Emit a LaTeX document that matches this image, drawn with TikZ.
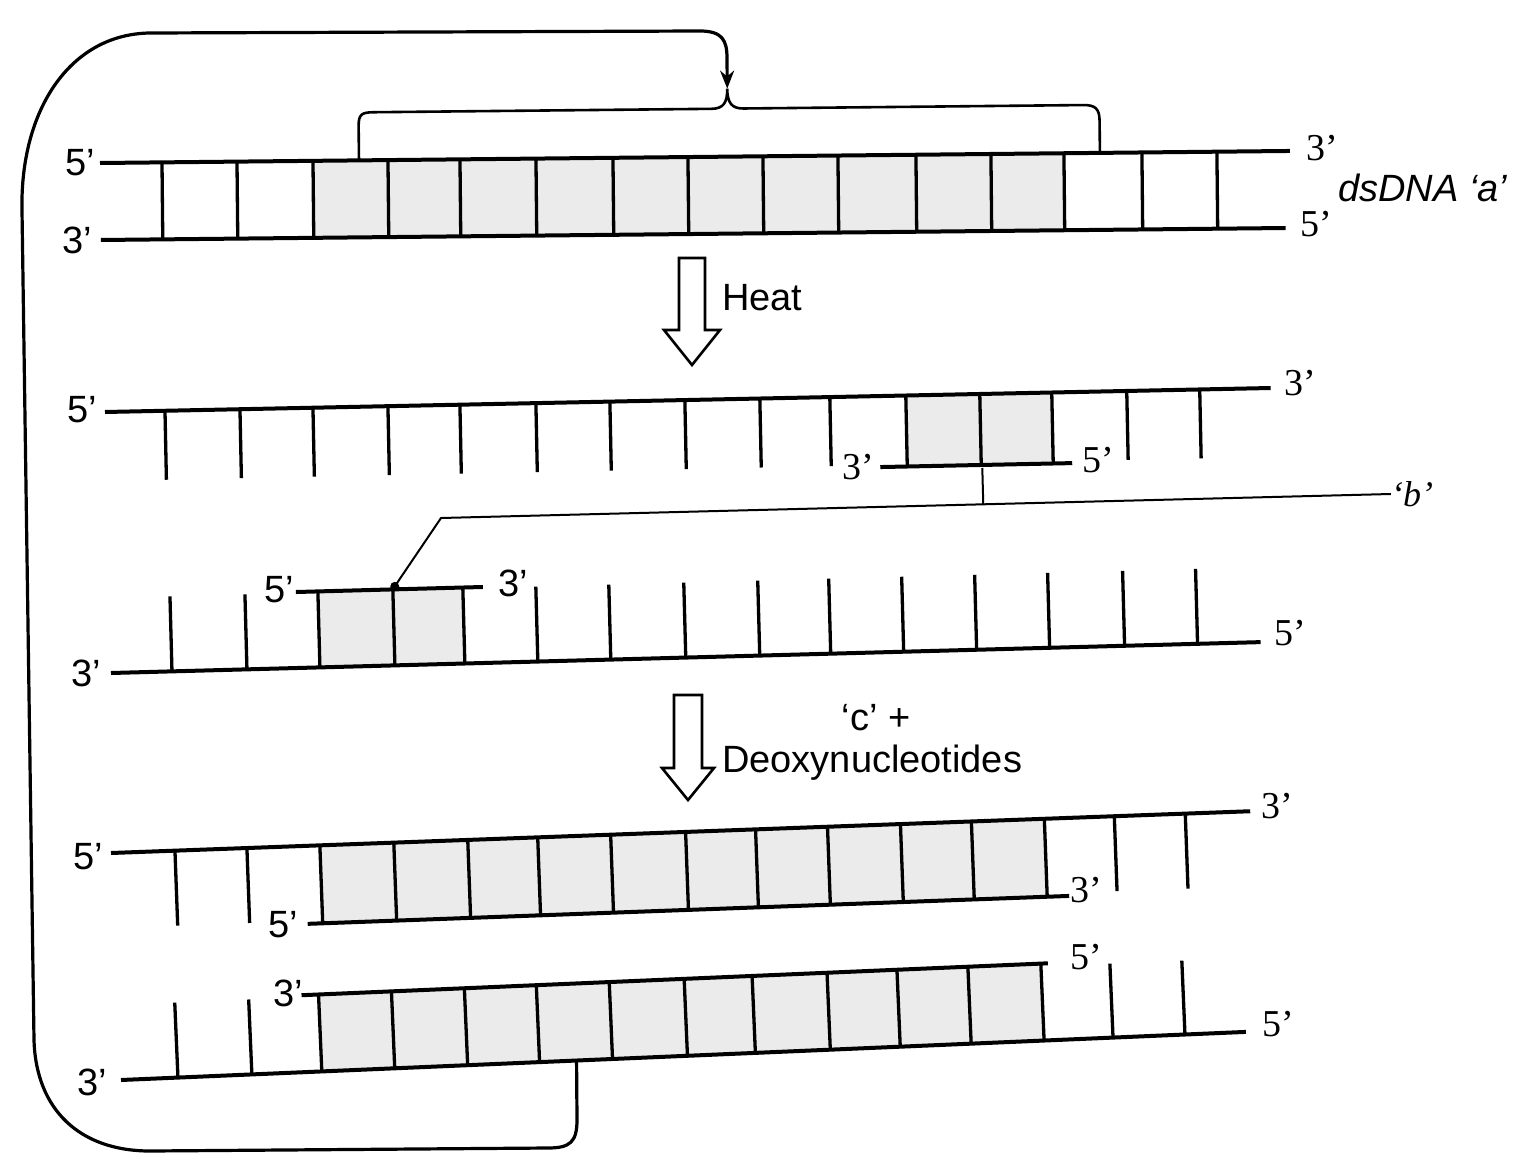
\documentclass[tikz,border=0pt]{standalone}
\usepackage{fontspec}
\setmainfont{Liberation Serif}
\setsansfont{Liberation Sans}
\usetikzlibrary{calc,arrows.meta}
\begin{document}
\begin{tikzpicture}[x=1pt,y=-1pt,
  strand/.style={line width=4pt},
  rung/.style={line width=3.3pt},
  shade/.style={fill=black!8, draw=none},
  loopline/.style={line width=3.2pt},
  bracel/.style={line width=2.6pt},
  lead/.style={line width=2pt},
  hollow/.style={draw, line width=2.6pt, fill=white, line join=miter},
  lab/.style={inner sep=0pt, font=\sffamily\fontsize{38}{40}\selectfont},
  slab/.style={inner sep=0pt, font=\rmfamily\fontsize{38}{40}\selectfont},
  txt/.style={inner sep=0pt, font=\sffamily\fontsize{38}{42}\selectfont},
]
\useasboundingbox (0,0) rectangle (1523,1159);

% ---------- Row 1 : dsDNA a ----------
\begin{scope}[shift={(100,163)}, rotate=0.58]
  \fill[shade] (213,0) rectangle (964,77);
  \foreach \x in {62,137,213,288,360,436,513,588,663,738,816,891,964,1042,1117}
    \draw[rung] (\x,0) -- (\x,77);
  \draw[strand] (0,0) -- (1190,0);
  \draw[strand] (0,77) -- (1185,77);
  \coordinate (cusp) at (628,-68);
  \draw[bracel] (259,0) -- (259,-34) .. controls (259,-46) and (262,-48) .. (274,-48)
     -- (612,-48) .. controls (624,-48) and (628,-54) .. (cusp)
     .. controls (628,-54) and (632,-48) .. (644,-48)
     -- (984,-48) .. controls (996,-48) and (1000,-44) .. (1000,-32) -- (1000,0);
\end{scope}
\node[lab] (l1a) at (80,163) {5'};
\node[lab] (l1b) at (77,240) {3'};
\node[slab] (l1c) at (1322,148) {3'};
\node[slab] (l1d) at (1316,224) {5'};
\node[inner sep=0pt, anchor=west, font=\sffamily\itshape\fontsize{38}{40}\selectfont] (dsa) at (1338,188) {dsDNA `a'};

% ---------- Heat arrow ----------
\draw[hollow] (679,258) -- (705,258) -- (705,330) -- (720,330) -- (692,365) -- (664,330) -- (679,330) -- cycle;
\node[txt, anchor=west] (heat) at (722,298) {Heat};

% ---------- Row 2 ----------
\begin{scope}[shift={(105,412)}, rotate=1.18]
  \fill[shade] (801,0) rectangle (947,71);
  \foreach \x in {60,135,208,283,355,431,505,580,655,725,1022,1095}
    \draw[rung] (\x,0) -- (\x,69);
  \foreach \x in {801,875,947}
    \draw[rung] (\x,0) -- (\x,71);
  \draw[strand] (0,0) -- (1166,0);
  \draw[strand] (774,71) -- (966,71);
  \coordinate (p1mid) at (876,74);
\end{scope}
\node[lab] (l2a) at (82,410) {5'};
\node[slab] (l2b) at (1300,383) {3'};
\node[slab] (l2c) at (858,467) {3'};
\node[slab] (l2d) at (1098,460) {5'};

% ---------- Row 3 ----------
\begin{scope}[shift={(111,673)}, rotate=1.54]
  \fill[shade] (209,-76) rectangle (354,0);
  \foreach \x in {61,136,427,500,575,649,720,793,866,939,1014,1087}
    \draw[rung] (\x,0) -- (\x,-75);
  \foreach \x in {209,284,354}
    \draw[rung] (\x,0) -- (\x,-76);
  \draw[strand] (0,0) -- (1150,0);
  \draw[strand] (187,-76) -- (374,-76);
  \coordinate (p2dot) at (286,-79);
\end{scope}
\node[lab] (l3a) at (86,673) {3'};
\node[slab] (l3b) at (1290,633) {5'};
\node[lab] (l3c) at (279,590) {5'};
\node[lab] (l3d) at (513,583) {3'};

% ---------- primer label b ----------
\node[inner sep=0pt, font=\rmfamily\itshape\fontsize{36}{40}\selectfont] (blab) at (1412,494) {`b'};
\coordinate (lk) at (441,518);
\fill (p2dot) circle (4.5);
\draw[lead] (blab.west) -- (lk) -- (p2dot);
\draw[lead] (p1mid) -- ($(blab.west)!(p1mid)!(lk)$);

% ---------- second arrow ----------
\draw[hollow] (674,695) -- (702,695) -- (702,768) -- (714,768) -- (688,800) -- (662,768) -- (674,768) -- cycle;
\node[txt] (cl) at (876,718) {`c' +};
\node[txt, anchor=west] (deoxy) at (722,763) {Deoxynucleotides};

% ---------- Row 4 ----------
\begin{scope}[shift={(111,853)}, rotate=2.1]
  \fill[shade] (209,0) rectangle (934,78);
  \foreach \x in {64,136}
    \draw[rung] (\x,0) -- (\x,75);
  \foreach \x in {209,283,357,427,500,575,645,717,790,861,934}
    \draw[rung] (\x,0) -- (\x,78);
  \foreach \x in {1004,1075}
    \draw[rung] (\x,0) -- (\x,75);
  \draw[strand] (0,0) -- (1140,0);
  \draw[strand] (194,78) -- (956,78);
\end{scope}
\node[lab] (l4a) at (88,857) {5'};
\node[slab] (l4b) at (1277,806) {3'};
\node[lab] (l4c) at (283,925) {5'};
\node[slab] (l4d) at (1086,890) {3'};

% ---------- Row 5 ----------
\begin{scope}[shift={(121,1080)}, rotate=2.45]
  \fill[shade] (201,-77) rectangle (924,0);
  \foreach \x in {57,131}
    \draw[rung] (\x,0) -- (\x,-75);
  \foreach \x in {201,274,347,419,492,567,635,710,780,851,924}
    \draw[rung] (\x,0) -- (\x,-77);
  \foreach \x in {993,1065}
    \draw[rung] (\x,0) -- (\x,-74);
  \draw[strand] (0,0) -- (1126,0);
  \draw[strand] (184,-77) -- (931,-77);
  \coordinate (r5b) at (456,0);
\end{scope}
\node[lab] (l5a) at (92,1082) {3'};
\node[slab] (l5b) at (1278,1024) {5'};
\node[lab] (l5c) at (288,993) {3'};
\node[slab] (l5d) at (1086,957) {5'};

% ---------- recycling loop ----------
\draw[loopline, -{Stealth[length=18pt,width=14pt]}]
  (r5b) -- (577,1120) .. controls (577,1142) and (570,1148) .. (548,1148)
  -- (150,1151) .. controls (80,1151) and (36,1110) .. (34,1040)
  -- (22,210) .. controls (20,110) and (70,34) .. (150,33)
  -- (700,31) .. controls (722,31) and (727,40) .. (727,58) -- (cusp);
\end{tikzpicture}
\end{document}
